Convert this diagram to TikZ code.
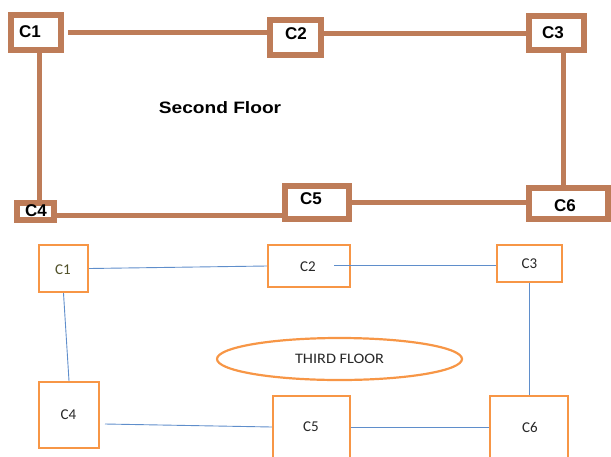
\documentclass[tikz,border=0pt]{standalone}
\usepackage{fontspec}
\setmainfont{Liberation Sans}
\newfontfamily\carlito{Carlito}
\usetikzlibrary{shapes.geometric}
\definecolor{brownc}{RGB}{190,124,88}
\definecolor{orangec}{RGB}{247,150,70}
\definecolor{bluec}{RGB}{95,142,203}
\definecolor{labc}{RGB}{40,40,40}
\tikzset{
  bbox/.style={draw=brownc, line width=6pt, fill=white, inner sep=0pt, rectangle},
  blink/.style={draw=brownc, line width=5pt},
  btext/.style={inner sep=0pt, font=\fontsize{17}{20}\selectfont\bfseries},
  obox/.style={draw=orangec, line width=2.2pt, fill=white, inner sep=0pt, rectangle},
  olink/.style={draw=bluec, line width=0.9pt},
  otext/.style={inner sep=0pt, text=labc, font=\carlito\fontsize{15}{18}\selectfont},
}
\begin{document}
\begin{tikzpicture}[x=1pt,y=-1pt]
\useasboundingbox (0,0) rectangle (611,456);
\clip (0,0) rectangle (611,456);
% ---------- Second floor ----------
\coordinate (a1) at (68,32);
\draw[blink] (a1) -- (a1 -| 267,0);
\node[bbox, minimum width=50pt, minimum height=35pt] (S1) at (36,32.5) {};
\node[bbox, minimum width=51pt, minimum height=35pt] (S2) at (295.5,37.5) {};
\node[bbox, minimum width=55pt, minimum height=34pt] (S3) at (556.5,33) {};
\node[bbox, minimum width=37pt, minimum height=17pt] (S4) at (35.5,211.5) {};
\node[bbox, minimum width=64pt, minimum height=33pt] (S5) at (317,202.5) {};
\node[bbox, minimum width=79pt, minimum height=31pt] (S6) at (568.5,203.5) {};
\draw[blink] (S2.east |- S3.west) -- (S3.west);
\draw[blink] ([xshift=3pt]S1.south) -- ([xshift=3pt]S1.south |- S4.north);
\draw[blink] ([xshift=6.5pt]S3.south) -- ([xshift=6.5pt]S3.south |- S6.north);
\draw[blink] ([yshift=-3.5pt]S4.east) -- ([yshift=-3.5pt]S4.east -| S5.west);
\draw[blink] (S5.east) -- (S5.east -| S6.west);
\node[btext] (t1) at (30,32) {C1};
\node[btext] (t2) at (296,34) {C2};
\node[btext] (t3) at (553,33) {C3};
\node[btext] (t4) at (36,211) {C4};
\node[btext] (t5) at (311,199) {C5};
\node[btext] (t6) at (565,206) {C6};
\node[inner sep=0pt, font=\fontsize{16.5}{19}\selectfont\bfseries] (sf) at (220,108) {\scalebox{1.16}[1]{Second Floor}};
% ---------- Third floor ----------
\node[obox, minimum width=49pt, minimum height=47pt] (T1) at (63.5,268.5) {};
\node[obox, minimum width=82pt, minimum height=42pt] (T2) at (309,266) {};
\node[obox, minimum width=65pt, minimum height=37pt] (T3) at (529.5,263.5) {};
\node[obox, minimum width=60pt, minimum height=66pt] (T4) at (69,415) {};
\node[obox, minimum width=77pt, minimum height=73pt] (T5) at (311.5,432.5) {};
\node[obox, minimum width=78pt, minimum height=73pt] (T6) at (529,432.5) {};
\node[draw=orangec, line width=2.2pt, ellipse, inner sep=0pt, minimum width=245pt, minimum height=42pt] (E) at (339.5,359) {};
\coordinate (b23) at (334,265);
\coordinate (b45) at (105,424);
\draw[olink] (T1.east) -- (T2.west);
\draw[olink] (b23) -- (b23 -| T3.west);
\draw[olink] (T1.south) -- (T4.north);
\draw[olink] (T3.south) -- (T3.south |- T6.north);
\draw[olink] (b45) -- ([yshift=5.5pt]T5.west);
\draw[olink] ([yshift=5.5pt]T5.east) -- ([yshift=5.5pt]T5.east -| T6.west);
\node[otext, text={rgb,255:red,80;green,80;blue,40}] (u1) at (63,270) {C1};
\node[otext] (u2) at (308,267) {C2};
\node[otext] (u3) at (529.5,264) {C3};
\node[otext] (u4) at (68.5,415) {C4};
\node[otext] (u5) at (311,427) {C5};
\node[otext] (u6) at (530,427) {C6};
\node[otext, font=\carlito\fontsize{14.5}{17}\selectfont] (tf) at (339.5,359) {\scalebox{1.12}[1]{THIRD FLOOR}};
\end{tikzpicture}
\end{document}
